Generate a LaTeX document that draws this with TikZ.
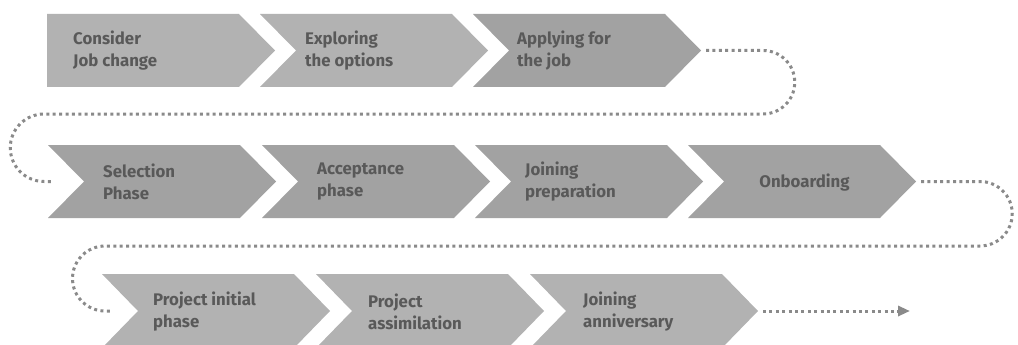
\documentclass[tikz,border=0pt]{standalone}
\usepackage{fontspec}
\setmainfont{Fira Sans}
\usetikzlibrary{arrows.meta}
\definecolor{chevL}{HTML}{B2B2B2}
\definecolor{chevD}{HTML}{A2A2A2}
\definecolor{txt}{HTML}{595959}
\definecolor{dotc}{HTML}{8A8A8A}
% #1 left x, #2 top y, #3 bottom y, #4 colour, #5 name, #6 notch depth (0 = flat)
\newcommand\mychev[6]{%
  \fill[#4] (#1,#2) -- ({#1+192},#2) -- ({#1+228},{(#2+#3)/2}) -- ({#1+192},#3) -- (#1,#3) -- ({#1+#6},{(#2+#3)/2}) -- cycle;
  \coordinate (#5tip) at ({#1+228},{(#2+#3)/2});
  \coordinate (#5in) at ({#1+#6},{(#2+#3)/2});
}
\begin{document}
\begin{tikzpicture}[x=1pt,y=-1pt,
  lbl/.style={font=\bfseries\fontsize{16.8}{22}\selectfont, text=txt, align=left, anchor=west, inner sep=0pt},
  dotline/.style={draw=dotc, line width=3pt, dash pattern=on 3pt off 3.4pt},
]
\useasboundingbox (0,0) rectangle (1018,345);
\clip (0,0) rectangle (1018,345);
% row 1
\mychev{47}{14}{87}{chevL}{a}{0}
\mychev{260}{14}{87}{chevL}{b}{36}
\mychev{473}{14}{87}{chevD}{c}{36}
% row 2
\mychev{48}{145}{218}{chevD}{d}{36}
\mychev{262}{145}{218}{chevD}{e}{36}
\mychev{475}{145}{218}{chevD}{f}{36}
\mychev{688}{145}{218}{chevD}{g}{36}
% row 3
\mychev{102}{274}{348}{chevL}{h}{36}
\mychev{316}{274}{348}{chevL}{i}{36}
\mychev{530}{274}{348}{chevL}{j}{36}

\node[lbl] (la) at (73,51) {Consider\\Job change};
\node[lbl] (lb) at (305,51) {Exploring\\the options};
\node[lbl] (lc) at (517,51) {Applying for\\the job};
\node[lbl] (ld) at (103,182) {Selection\\Phase};
\node[lbl] (le) at (317,182) {Acceptance\\phase};
\node[lbl] (lf) at (525,182) {Joining\\preparation};
\node[lbl, anchor=center] (lg) at (804.5,182.5) {Onboarding};
\node[lbl] (lh) at (153,311.5) {Project initial\\phase};
\node[lbl] (li) at (368,311.5) {Project\\assimilation};
\node[lbl] (lj) at (583,311.5) {Joining\\anniversary};

\draw[dotline] ([xshift=5pt]ctip) -- (763,50.5) arc[start angle=-90,end angle=90,radius=31.75]
  -- (44,114) arc[start angle=270,end angle=90,radius=33.75] -- ([xshift=-32pt]din);
\draw[dotline] ([xshift=5pt]gtip) -- (980,181.5) arc[start angle=-90,end angle=90,radius=32.25]
  -- (105,246) arc[start angle=270,end angle=90,radius=32.5] -- ([xshift=-25pt]hin);
\draw[dotline, -{Triangle[length=12pt,width=10pt]}] ([xshift=5pt]jtip) -- ([xshift=152pt]jtip);
\end{tikzpicture}
\end{document}
